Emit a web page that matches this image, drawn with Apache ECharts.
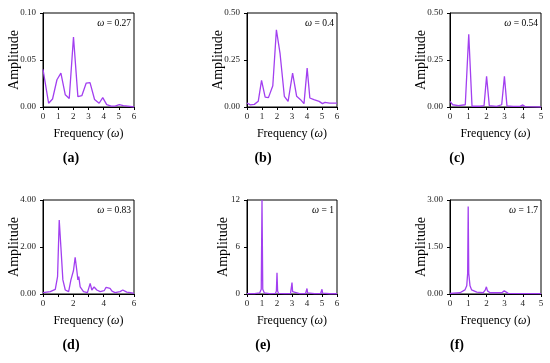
<!DOCTYPE html>
<html>
<head>
<meta charset="utf-8">
<script src="https://cdn.jsdelivr.net/npm/echarts@6/dist/echarts.min.js"></script>
<style>html,body{margin:0;padding:0;background:#fff}#c{width:550px;height:363px}</style>
</head>
<body>
<div id="c"></div>
<script>
// Panel (a) ω = 0.27
const freqA = [0, 0.37, 0.63, 0.92, 1.18, 1.47, 1.73, 2.01, 2.3, 2.56, 2.85, 3.1, 3.4, 3.7, 3.94, 4.2, 4.5, 4.75, 5.03, 5.3, 5.6, 6];
const ampA  = [0.040, 0.004, 0.0085, 0.029, 0.036, 0.013, 0.009, 0.0745, 0.011, 0.012, 0.0255, 0.026, 0.008, 0.004, 0.010, 0.0025, 0.001, 0.001, 0.0025, 0.0015, 0.001, 0];
// Panel (b) ω = 0.4
const freqB = [0, 0.22, 0.49, 0.75, 0.97, 1.21, 1.43, 1.72, 1.96, 2.2, 2.49, 2.74, 3.04, 3.31, 3.57, 3.8, 4.01, 4.19, 4.46, 4.81, 5.03, 5.2, 5.5, 6];
const ampB  = [0.021, 0.011, 0.014, 0.03, 0.142, 0.053, 0.05, 0.113, 0.411, 0.287, 0.057, 0.03, 0.18, 0.057, 0.039, 0.018, 0.207, 0.048, 0.039, 0.03, 0.018, 0.025, 0.021, 0.021];
// Panel (c) ω = 0.54
const freqC = [0, 0.15, 0.46, 0.84, 1.03, 1.21, 1.65, 1.87, 2.01, 2.16, 2.56, 2.84, 2.99, 3.13, 3.48, 3.85, 4.0, 4.12, 5];
const ampC  = [0.03, 0.012, 0.007, 0.012, 0.387, 0.004, 0.004, 0.007, 0.163, 0.007, 0.003, 0.012, 0.163, 0.006, 0.003, 0.003, 0.011, 0.002, 0];
// Panel (d) ω = 0.83
const freqD = [0, 0.48, 0.81, 0.96, 1.07, 1.18, 1.31, 1.47, 1.69, 1.84, 1.93, 2.01, 2.12, 2.23, 2.3, 2.36, 2.45, 2.67, 2.93, 3.11, 3.22, 3.37, 3.55, 3.77, 4.03, 4.16, 4.29, 4.42, 4.55, 4.75, 5.08, 5.26, 5.34, 5.52, 5.78, 6];
const ampD  = [0.06, 0.1, 0.2, 0.74, 3.15, 2.0, 0.6, 0.17, 0.1, 0.6, 0.67, 1.0, 1.56, 1.0, 0.6, 0.74, 0.3, 0.1, 0.06, 0.45, 0.17, 0.3, 0.17, 0.1, 0.14, 0.28, 0.2, 0.24, 0.12, 0.06, 0.1, 0.17, 0.09, 0.08, 0.06, 0.03];
// Panel (e) ω = 1
const freqE = [0, 0.5, 0.85, 0.95, 1.0, 1.05, 1.15, 1.5, 1.9, 1.96, 2.0, 2.04, 2.1, 2.5, 2.9, 2.96, 3.0, 3.04, 3.1, 3.5, 3.9, 3.96, 4.0, 4.04, 4.1, 4.5, 4.9, 4.96, 5.0, 5.04, 5.1, 5.5, 6];
const ampE  = [0.05, 0.05, 0.15, 0.6, 12, 0.6, 0.15, 0.05, 0.08, 0.4, 2.7, 0.4, 0.08, 0.05, 0.06, 0.3, 1.45, 0.3, 0.06, 0.05, 0.05, 0.15, 0.7, 0.15, 0.05, 0.04, 0.04, 0.12, 0.6, 0.12, 0.04, 0.03, 0.03];
// Panel (f) ω = 1.7
const freqF = [0, 0.55, 0.82, 0.92, 0.97, 1.0, 1.03, 1.1, 1.19, 1.47, 1.83, 1.94, 2.0, 2.06, 2.2, 2.85, 2.93, 2.98, 3.04, 3.2, 5];
const ampF  = [0.02, 0.04, 0.13, 0.26, 0.66, 2.79, 0.66, 0.26, 0.13, 0.06, 0.04, 0.13, 0.23, 0.1, 0.04, 0.04, 0.08, 0.1, 0.06, 0.02, 0.01];

// Axis ticks / labels
const yTicksA = [0, 0.05, 0.10];
const yTicksB = [0, 0.25, 0.50];
const yTicksC = [0, 0.25, 0.50];
const yTicksD = [0, 2.00, 4.00];
const yTicksE = [0, 6, 12];
const yTicksF = [0, 1.50, 3.00];
const omegaLabels = ['0.27', '0.4', '0.54', '0.83', '1', '1.7'];
const panelLetters = ['(a)', '(b)', '(c)', '(d)', '(e)', '(f)'];

const panels = [
  {x: freqA, y: ampA, yt: yTicksA, xmax: 6, xint: 1, dec: 2, g: {left: 43, top: 13, width: 91, height: 94}, ng: 22, lx: 71},
  {x: freqB, y: ampB, yt: yTicksB, xmax: 6, xint: 1, dec: 2, g: {left: 247, top: 13, width: 90, height: 94}, ng: 22, lx: 263},
  {x: freqC, y: ampC, yt: yTicksC, xmax: 5, xint: 1, dec: 2, g: {left: 450, top: 13, width: 91, height: 94}, ng: 22, lx: 457},
  {x: freqD, y: ampD, yt: yTicksD, xmax: 6, xint: 2, dec: 2, g: {left: 43, top: 200, width: 91, height: 94}, ng: 22, lx: 71},
  {x: freqE, y: ampE, yt: yTicksE, xmax: 6, xint: 1, dec: 0, g: {left: 247, top: 200, width: 90, height: 94}, ng: 17, lx: 263},
  {x: freqF, y: ampF, yt: yTicksF, xmax: 5, xint: 1, dec: 2, g: {left: 450, top: 200, width: 91, height: 94}, ng: 22, lx: 457}
];

const FONT = '"Liberation Serif", "Times New Roman", serif';
const LINE = '#a23ff0';

const option = {
  backgroundColor: '#fff',
  animation: false,
  grid: [], xAxis: [], yAxis: [], series: [], graphic: []
};

panels.forEach((p, i) => {
  option.grid.push(Object.assign({show: true, borderColor: '#000', borderWidth: 1, backgroundColor: 'transparent'}, p.g));
  const yInt = p.yt[1] - p.yt[0];
  option.xAxis.push({
    type: 'value', gridIndex: i, min: 0, max: p.xmax, interval: p.xint,
    name: 'Frequency ({i|ω})', nameLocation: 'middle', nameGap: 21, nameMoveOverlap: false,
    nameTextStyle: {fontFamily: FONT, fontSize: 12, color: '#000',
      rich: {i: {fontStyle: 'italic', fontFamily: FONT, fontSize: 12, color: '#000'}}},
    axisLine: {show: true, lineStyle: {color: '#000', width: 1}},
    axisTick: {show: true, inside: false, length: 3, lineStyle: {color: '#000'}},
    minorTick: {show: p.xint === 2, splitNumber: 2, length: 3, lineStyle: {color: '#000'}},
    axisLabel: {fontFamily: FONT, fontSize: 9, color: '#222', margin: 5},
    splitLine: {show: false}
  });
  option.yAxis.push({
    type: 'value', gridIndex: i, min: p.yt[0], max: p.yt[2], interval: yInt,
    name: 'Amplitude', nameLocation: 'middle', nameGap: p.ng, nameRotate: 90, nameMoveOverlap: false,
    nameTextStyle: {fontFamily: FONT, fontSize: 14, color: '#000', verticalAlign: 'bottom'},
    axisLine: {show: true, lineStyle: {color: '#000', width: 1}},
    axisTick: {show: true, inside: false, length: 3, lineStyle: {color: '#000'}},
    axisLabel: {fontFamily: FONT, fontSize: 9, color: '#222', margin: 7,
      formatter: v => v.toFixed(p.dec)},
    splitLine: {show: false}
  });
  option.series.push({
    type: 'line', xAxisIndex: i, yAxisIndex: i,
    data: p.x.map((xv, k) => [xv, p.y[k]]),
    showSymbol: false, symbol: 'none', smooth: false,
    lineStyle: {color: LINE, width: 1.3},
    clip: true
  });
  // annotation ω = value (top-right inside the plot)
  option.graphic.push({
    type: 'text',
    x: p.g.left + p.g.width - 3, y: p.g.top + 5,
    style: {
      text: '{i|ω} = ' + omegaLabels[i],
      align: 'right', verticalAlign: 'top',
      font: '9.5px ' + FONT, fill: '#000',
      rich: {i: {fontStyle: 'italic', fontFamily: FONT, fontSize: 10, fill: '#000'}}
    }
  });
  // panel letter
  option.graphic.push({
    type: 'text',
    x: p.lx, y: p.g.top + 145,
    style: {
      text: panelLetters[i], align: 'center', verticalAlign: 'middle',
      font: 'bold 14px ' + FONT, fill: '#000'
    }
  });
});

const chart = echarts.init(document.getElementById('c'), null, {renderer: 'canvas'});
chart.setOption(option);
</script>
</body>
</html>
